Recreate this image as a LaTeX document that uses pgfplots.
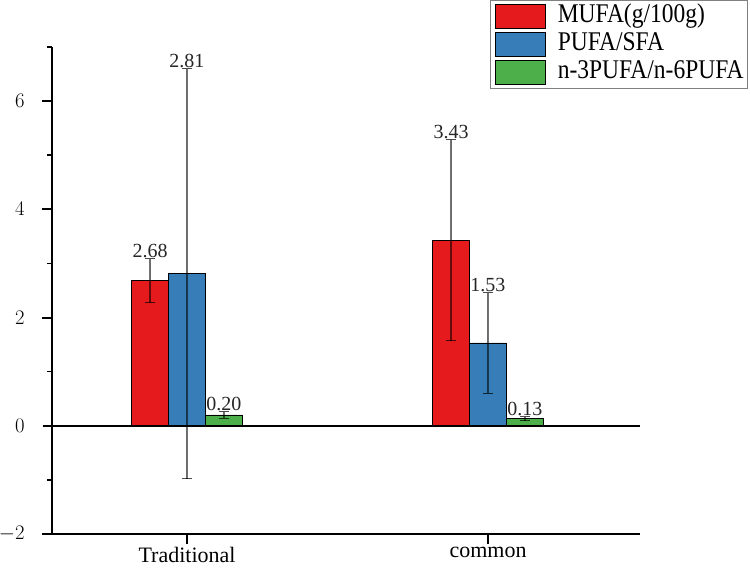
\documentclass[border=0pt]{standalone}
\usepackage{fontspec}
\setmainfont{Liberation Serif}
\newfontfamily\legfont[FakeStretch=0.87]{Liberation Serif}
\usepackage{pgfplots}
\usepackage{pgfplotstable}
\pgfplotsset{compat=1.18}
\definecolor{cred}{HTML}{E41A1C}
\definecolor{cblue}{HTML}{377EB8}
\definecolor{cgreen}{HTML}{4DAF4A}

\pgfplotstableread{
x y err lab
0 2.68 0.41 2.68
1 3.43 1.86 3.43
}\mufa
\pgfplotstableread{
x y err lab
0 2.81 3.79 2.81
1 1.53 0.93 1.53
}\pufa
\pgfplotstableread{
x y err lab
0 0.20 0.06 0.20
1 0.13 0.04 0.13
}\nthree

\begin{document}
\begin{tikzpicture}
\useasboundingbox (0,0) rectangle (750bp,568bp);
\begin{axis}[
  at={(52bp,34bp)}, anchor=south west,
  scale only axis, width=588bp, height=487bp,
  xmin=-0.4485, xmax=1.505, ymin=-2, ymax=7, clip=false,
  axis x line*=bottom, axis y line*=left,
  axis line style={black, line width=1.6bp},
  xtick={0,1}, xticklabels={Traditional, common},
  ytick={-2,0,2,4,6}, minor ytick={-1,1,3,5,7},
  tick align=outside, tick pos=left,
  major tick length=9bp, minor tick length=5bp,
  major tick style={black, line width=2bp},
  minor tick style={black, line width=1.6bp},
  yticklabel style={font=\fontsize{22bp}{24bp}\selectfont, xshift=-15bp},
  xticklabel style={font=\fontsize{22bp}{24bp}\selectfont, yshift=-1bp},
  legend style={at={(1.1837,1.0965)}, anchor=north east, draw=black!50, line width=0.8bp,
    inner xsep=4bp, inner ysep=2bp, font={\legfont\fontsize{27bp}{28bp}\selectfont},
    nodes={inner sep=0bp, text height=20bp, text depth=8bp},
    /tikz/every odd column/.append style={column sep=12bp}},
  legend cell align=left,
  legend image code/.code={\draw[#1, line width=1bp] (0bp,-12bp) rectangle (50bp,12bp);},
  error bars/error bar style={black, opacity=0.55, line width=1.1bp},
  error bars/error mark options={rotate=90, black, opacity=0.7, line width=1.1bp, mark size=5bp},
]
\addplot[forget plot, black, line width=1.6bp] coordinates {(-0.4485,0) (1.505,0)};
% major tick marks drawn through the axis
\addplot[forget plot, black, line width=2bp, only marks, mark=-, mark size=5bp,
  mark options={xshift=-5bp, solid, draw=black, line width=2bp}]
  coordinates {(-0.4485,-2) (-0.4485,2) (-0.4485,4) (-0.4485,6)};
\addplot[forget plot, black, line width=2bp, only marks, mark=|, mark size=5bp,
  mark options={yshift=-5bp, solid, draw=black, line width=2bp}]
  coordinates {(0,-2) (1,-2)};
\addplot[ybar, bar width=37bp, bar shift=0bp, fill=cred, draw=black, line width=0.9bp,
  error bars/.cd, y dir=both, y explicit]
  table[x expr=\thisrow{x}-0.1229, y=y, y error=err]{\mufa};
\addlegendentry{MUFA(g/100g)}
\addplot[ybar, bar width=37bp, bar shift=0bp, fill=cblue, draw=black, line width=0.9bp,
  error bars/.cd, y dir=both, y explicit]
  table[x=x, y=y, y error=err]{\pufa};
\addlegendentry{PUFA/SFA}
\addplot[ybar, bar width=37bp, bar shift=0bp, fill=cgreen, draw=black, line width=0.9bp,
  error bars/.cd, y dir=both, y explicit]
  table[x expr=\thisrow{x}+0.1229, y=y, y error=err]{\nthree};
\addlegendentry{n-3PUFA/n-6PUFA}

\addplot[forget plot, draw=none, mark=none, point meta=explicit symbolic,
  nodes near coords, every node near coord/.style={anchor=south, inner sep=1bp,
  font=\fontsize{20bp}{22bp}\selectfont, text=black!85}]
  table[x expr=\thisrow{x}-0.1229, y expr=\thisrow{y}+\thisrow{err}, meta=lab]{\mufa};
\addplot[forget plot, draw=none, mark=none, point meta=explicit symbolic,
  nodes near coords, every node near coord/.style={anchor=south, inner sep=1bp,
  font=\fontsize{20bp}{22bp}\selectfont, text=black!85}]
  table[x=x, y expr=\thisrow{y}+\thisrow{err}, meta=lab]{\pufa};
\addplot[forget plot, draw=none, mark=none, point meta=explicit symbolic,
  nodes near coords, every node near coord/.style={anchor=south, inner sep=1bp,
  font=\fontsize{20bp}{22bp}\selectfont, text=black!85}]
  table[x expr=\thisrow{x}+0.1229, y expr=\thisrow{y}+\thisrow{err}, meta=lab]{\nthree};
\end{axis}
\end{tikzpicture}
\end{document}
